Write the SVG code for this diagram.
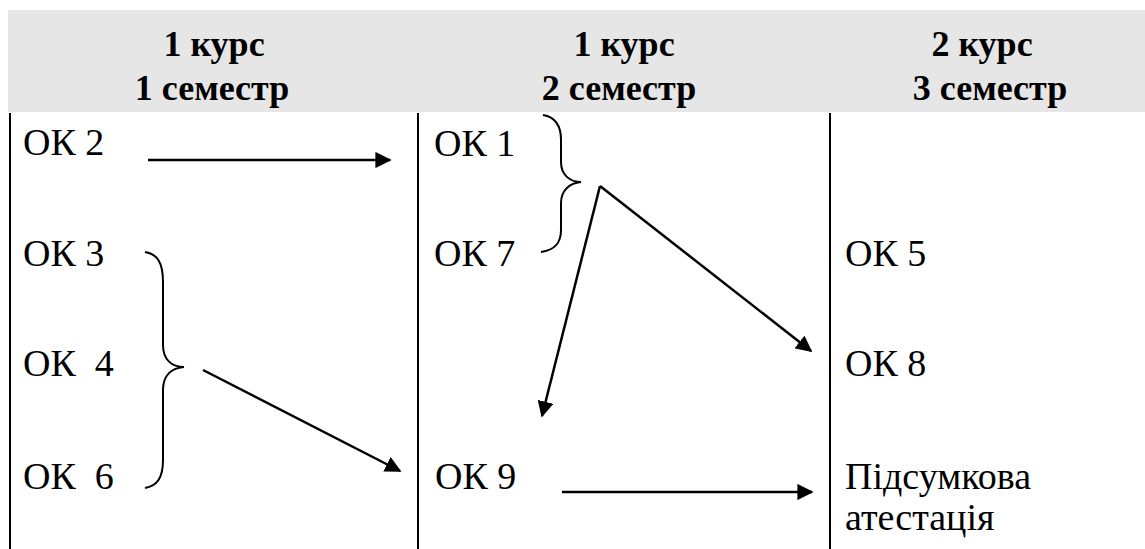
<svg xmlns="http://www.w3.org/2000/svg" width="1145" height="549" viewBox="0 0 1145 549">
<style>
.hd{font-size:36px;font-weight:bold;text-anchor:middle;fill:#000}
.tx{font-size:38px;fill:#000}
.col{stroke:#000;stroke-width:2;fill:none}
.br{stroke:#000;stroke-width:2;fill:none}
.ar{stroke:#000;stroke-width:2.5;fill:none;marker-end:url(#ah)}
</style>
<defs>
<marker id="ah" viewBox="0 0 10 10" refX="9" refY="5" markerWidth="6.5" markerHeight="6.5" markerUnits="strokeWidth" orient="auto">
<path d="M0,0 L10,5 L0,10 Z" fill="#000"/>
</marker>
</defs>
<rect x="8" y="10" width="1137" height="102" fill="#e6e6e6"/>
<g id="headers" font-family="Liberation Serif">
<text class="hd" x="214" y="56" font-family="Liberation Serif">1 курс</text>
<text class="hd" x="212" y="100" font-family="Liberation Serif">1 семестр</text>
<text class="hd" x="624" y="56" font-family="Liberation Serif">1 курс</text>
<text class="hd" x="619" y="100" font-family="Liberation Serif">2 семестр</text>
<text class="hd" x="982" y="56" font-family="Liberation Serif">2 курс</text>
<text class="hd" x="990" y="100" font-family="Liberation Serif">3 семестр</text>
</g>
<g id="grid">
<line class="col" x1="10" y1="113" x2="10" y2="549"/>
<line class="col" x1="418" y1="113" x2="418" y2="549"/>
<line class="col" x1="830" y1="113" x2="830" y2="549"/>
</g>
<g font-family="Liberation Serif">
<g id="ok2"><text class="tx" x="23" y="155" font-family="Liberation Serif">ОК 2</text></g>
<g id="ok3"><text class="tx" x="23" y="266" font-family="Liberation Serif">ОК 3</text></g>
<g id="ok4"><text class="tx" x="23" y="376" font-family="Liberation Serif" xml:space="preserve">ОК  4</text></g>
<g id="ok6"><text class="tx" x="23" y="489" font-family="Liberation Serif" xml:space="preserve">ОК  6</text></g>
<g id="ok1"><text class="tx" x="434" y="156" font-family="Liberation Serif">ОК 1</text></g>
<g id="ok7"><text class="tx" x="434" y="266" font-family="Liberation Serif">ОК 7</text></g>
<g id="ok9"><text class="tx" x="435" y="489" font-family="Liberation Serif">ОК 9</text></g>
<g id="ok5"><text class="tx" x="845" y="266" font-family="Liberation Serif">ОК 5</text></g>
<g id="ok8"><text class="tx" x="845" y="376" font-family="Liberation Serif">ОК 8</text></g>
<g id="final"><text class="tx" x="845" y="489" font-family="Liberation Serif">Підсумкова</text><text class="tx" x="845" y="530" font-family="Liberation Serif">атестація</text></g>
</g>
<g id="braces">
<path class="br" d="M145,252 C157,254 163,262 163,282 L163,345 C163,360 172,367 184,367 C172,368 163,375 163,390 L163,460 C163,478 157,486 145,488"/>
<path class="br" d="M543,115 C555,117 561,125 561,140 L561,162 C561,175 570,182 581,182 C570,183 561,190 561,203 L561,230 C561,243 555,250 541,252"/>
</g>
<g id="connectors">
<line class="ar" x1="148" y1="160" x2="390" y2="160"/>
<line class="ar" x1="203" y1="370" x2="400" y2="471"/>
<line class="ar" x1="600" y1="186" x2="811" y2="351"/>
<line class="ar" x1="600" y1="186" x2="542" y2="416"/>
<line class="ar" x1="562" y1="492" x2="812" y2="492"/>
</g>
</svg>
